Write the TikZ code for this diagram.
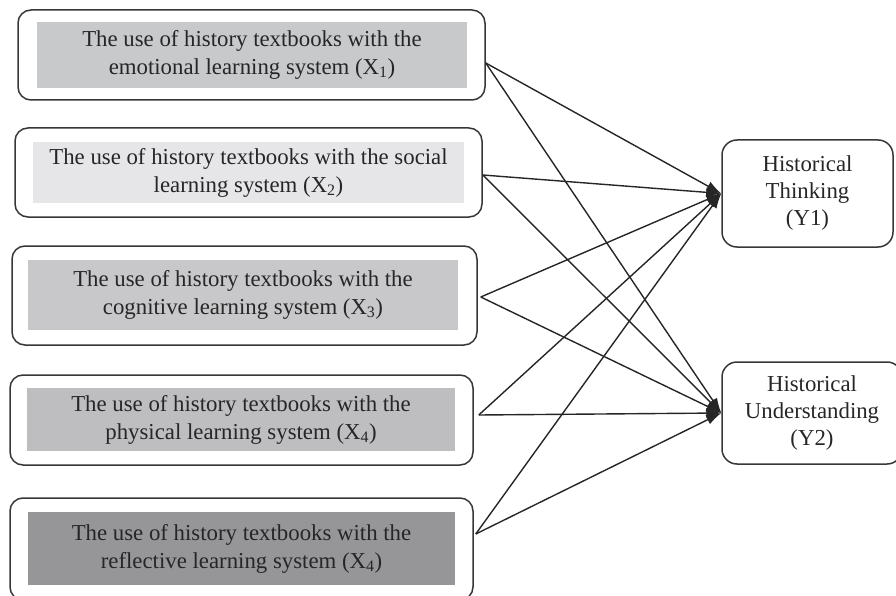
\documentclass[tikz,border=0pt]{standalone}
\usepackage{fontspec}
\setmainfont{Liberation Serif}
\usetikzlibrary{arrows.meta,positioning,calc}
\definecolor{boxline}{RGB}{55,55,58}
\definecolor{grayemo}{RGB}{200,201,203}
\definecolor{graysoc}{RGB}{230,230,232}
\definecolor{graycog}{RGB}{200,200,202}
\definecolor{grayphy}{RGB}{190,190,193}
\definecolor{grayref}{RGB}{150,150,153}
\tikzset{
  outerbox/.style={
    rectangle, rounded corners=13pt, draw=boxline, line width=1.5pt,
    fill=white, inner sep=0pt
  },
  innerbox/.style={
    rectangle, inner sep=0pt, align=center,
    font=\fontsize{22.8}{28}\selectfont, text=black!85
  },
  ybox/.style={
    rectangle, rounded corners=15pt, draw=boxline, line width=1.5pt,
    align=center, font=\fontsize{22.8}{27}\selectfont, text=black!85
  },
  link/.style={-{Latex[length=15pt,width=10pt]}, line width=1.4pt, black!85}
}

\begin{document}
\begin{tikzpicture}[x=1pt, y=-1pt]
  \useasboundingbox (0,0) rectangle (896,596);
  % independent variables
  \node[outerbox, minimum width=467pt, minimum height=90pt] (x1box) at (251.5,55) {};
  \node[innerbox, fill=grayemo, minimum width=430pt, minimum height=66pt] (x1) at (252,55)
    {The use of history textbooks with the\\emotional learning system (X\textsubscript{1})};
  \node[outerbox, minimum width=467pt, minimum height=89pt] (x2box) at (248.5,172.5) {};
  \node[innerbox, fill=graysoc, minimum width=431pt, minimum height=61pt] (x2) at (248.5,172.5)
    {The use of history textbooks with the social\\learning system (X\textsubscript{2})};
  \node[outerbox, minimum width=465pt, minimum height=99pt] (x3box) at (244.5,295.5) {};
  \node[innerbox, fill=graycog, minimum width=430pt, minimum height=70pt] (x3) at (243,295)
    {The use of history textbooks with the\\cognitive learning system (X\textsubscript{3})};
  \node[outerbox, minimum width=463pt, minimum height=90pt] (x4box) at (241.5,420) {};
  \node[innerbox, fill=grayphy, minimum width=428pt, minimum height=63pt] (x4) at (241,419.5)
    {The use of history textbooks with the\\physical learning system (X\textsubscript{4})};
  \node[outerbox, minimum width=463pt, minimum height=102pt] (x5box) at (241.5,549) {};
  \node[innerbox, fill=grayref, minimum width=427pt, minimum height=73pt] (x5) at (241.5,548.5)
    {The use of history textbooks with the\\reflective learning system (X\textsubscript{4})};
  % dependent variables
  \node[ybox, minimum width=171pt, minimum height=107pt] (y1) at (807.5,193.5)
    {Historical\\Thinking\\(Y1)};
  \node[ybox, minimum width=180pt, minimum height=102pt] (y2) at (812,413)
    {Historical\\Understanding\\(Y2)};
  % paths
  \draw[link] ([yshift=-8pt]x1box.east) -- (y1.west);
  \draw[link] ([yshift=-8pt]x1box.east) -- (y2.west);
  \draw[link] ([yshift=-2.5pt]x2box.east) -- (y1.west);
  \draw[link] ([yshift=-2.5pt]x2box.east) -- (y2.west);
  \draw[link] ([xshift=3pt,yshift=-1.5pt]x3box.east) -- (y1.west);
  \draw[link] ([xshift=3pt,yshift=-1.5pt]x3box.east) -- (y2.west);
  \draw[link] ([xshift=5pt,yshift=5pt]x4box.east) -- (y1.west);
  \draw[link] ([xshift=5pt,yshift=5pt]x4box.east) -- (y2.west);
  \draw[link] ([xshift=2pt,yshift=15pt]x5box.east) -- (y1.west);
  \draw[link] ([xshift=2pt,yshift=15pt]x5box.east) -- (y2.west);
\end{tikzpicture}
\end{document}
